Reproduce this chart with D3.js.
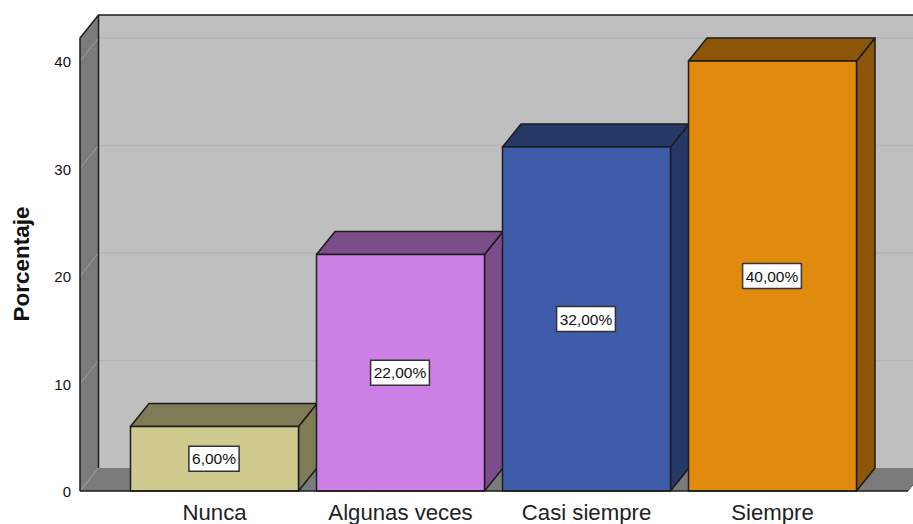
<!DOCTYPE html>
<html><head><meta charset="utf-8">
<script src="https://cdn.jsdelivr.net/npm/d3@7"></script>
<style>html,body{margin:0;padding:0;background:#fff}svg{display:block}text{font-family:"Liberation Sans",Arial,sans-serif}</style>
</head><body><svg id="c" width="913" height="524"></svg>
<script>
const categories = ["Nunca","Algunas veces","Casi siempre","Siempre"];
const values = [6,22,32,40];
const valueLabels = ["6,00%","22,00%","32,00%","40,00%"];
const frontColors = ["#CFCA8E","#CC7FE5","#3E5CA9","#E08A0E"];
const sideColors = ["#7E7B56","#7C4D8B","#253866","#8B5608"];
const yTicks = [0,10,20,30,40];
const yTop = 42.14;

const dx = 18.5, dy = -23;
const svg = d3.select("#c");
const y = d3.scaleLinear().domain([0,40]).range([491,61]);
const x = d3.scaleBand().domain(categories).range([121.5,865.5]).paddingInner(18/186).paddingOuter(9/186);
const left = 80, right = 908;
const ink = "#1c1c1c";
const poly = (pts,fill,stroke,w) => svg.append("polygon")
  .attr("points",pts.map(p=>p.join(",")).join(" "))
  .attr("fill",fill).attr("stroke",stroke||"none").attr("stroke-width",w||0).attr("stroke-linejoin","round");

poly([[left+dx,y(yTop)+dy],[right+dx+10,y(yTop)+dy],[right+dx+10,y(0)+dy],[left+dx,y(0)+dy]],"#BFBFBF");
poly([[left,y(0)],[left+dx,y(0)+dy],[right+dx,y(0)+dy],[right,y(0)]],"#7B7B7B");
poly([[left,y(0)],[left,y(yTop)],[left+dx,y(yTop)+dy],[left+dx,y(0)+dy]],"#7B7B7B");

svg.append("g").selectAll("line").data(yTicks.filter(d=>d>0)).join("line")
  .attr("x1",left+dx).attr("x2",913).attr("y1",d=>y(d)+dy).attr("y2",d=>y(d)+dy)
  .attr("stroke","#B3B3B3").attr("stroke-width",1.5);
svg.append("g").selectAll("line").data(yTicks).join("line")
  .attr("x1",left).attr("x2",left+dx).attr("y1",d=>y(d)).attr("y2",d=>y(d)+dy)
  .attr("stroke","#9E9E9E").attr("stroke-width",1);

svg.append("path").attr("fill","none").attr("stroke",ink).attr("stroke-width",1.5)
  .attr("d",`M${left},${y(0)}V${y(yTop)}L${left+dx},${y(yTop)+dy}H913M${left+dx},${y(yTop)+dy}V${y(0)+dy}`);
svg.append("path").attr("fill","none").attr("stroke","#555").attr("stroke-width",1)
  .attr("d",`M${right},${y(0)}L${right+dx},${y(0)+dy}`);

categories.forEach((c,i)=>{
  const x0 = x(c), x1 = x0+x.bandwidth(), yt = y(values[i]), yb = y(0);
  poly([[x1,yb],[x1,yt],[x1+dx,yt+dy],[x1+dx,yb+dy]],sideColors[i],ink,1.5);
  poly([[x0,yt],[x0+dx,yt+dy],[x1+dx,yt+dy],[x1,yt]],sideColors[i],ink,1.5);
  svg.append("rect").attr("x",x0).attr("y",yt).attr("width",x.bandwidth()).attr("height",yb-yt)
    .attr("fill",frontColors[i]).attr("stroke",ink).attr("stroke-width",1.5);
});

svg.append("line").attr("x1",left).attr("x2",right).attr("y1",y(0)).attr("y2",y(0)).attr("stroke",ink).attr("stroke-width",1.5);

categories.forEach((c,i)=>{
  const cx = x(c)+x.bandwidth()/2-0.5, cy = y(values[i]/2);
  const g = svg.append("g");
  const t = g.append("text").attr("x",cx).attr("y",cy+5.5).attr("text-anchor","middle")
    .attr("font-size",15.5).attr("fill","#111").text(valueLabels[i]);
  const b = t.node().getBBox();
  g.insert("rect","text").attr("x",cx-b.width/2-3).attr("y",cy-12.5).attr("width",b.width+6).attr("height",25)
    .attr("fill","#fff").attr("stroke","#333").attr("stroke-width",1.5);
});

const gy = svg.append("g").attr("transform",`translate(${left-9},1)`)
  .call(d3.axisLeft(y).tickValues(yTicks).tickSize(0).tickPadding(0));
gy.select(".domain").remove();
gy.selectAll("text").attr("font-size",15).attr("fill","#111").attr("font-family",'"Liberation Sans",Arial,sans-serif');
const gx = svg.append("g").attr("transform",`translate(0,${y(0)})`)
  .call(d3.axisBottom(x).tickSize(0).tickPadding(13));
gx.select(".domain").remove();
gx.selectAll("text").attr("font-size",22.2).attr("fill","#222").attr("font-family",'"Liberation Sans",Arial,sans-serif');

svg.append("text").attr("transform","translate(29,264) rotate(-90)").attr("text-anchor","middle")
  .attr("font-size",22.5).attr("font-weight","bold").attr("fill","#111").text("Porcentaje");
</script></body></html>
